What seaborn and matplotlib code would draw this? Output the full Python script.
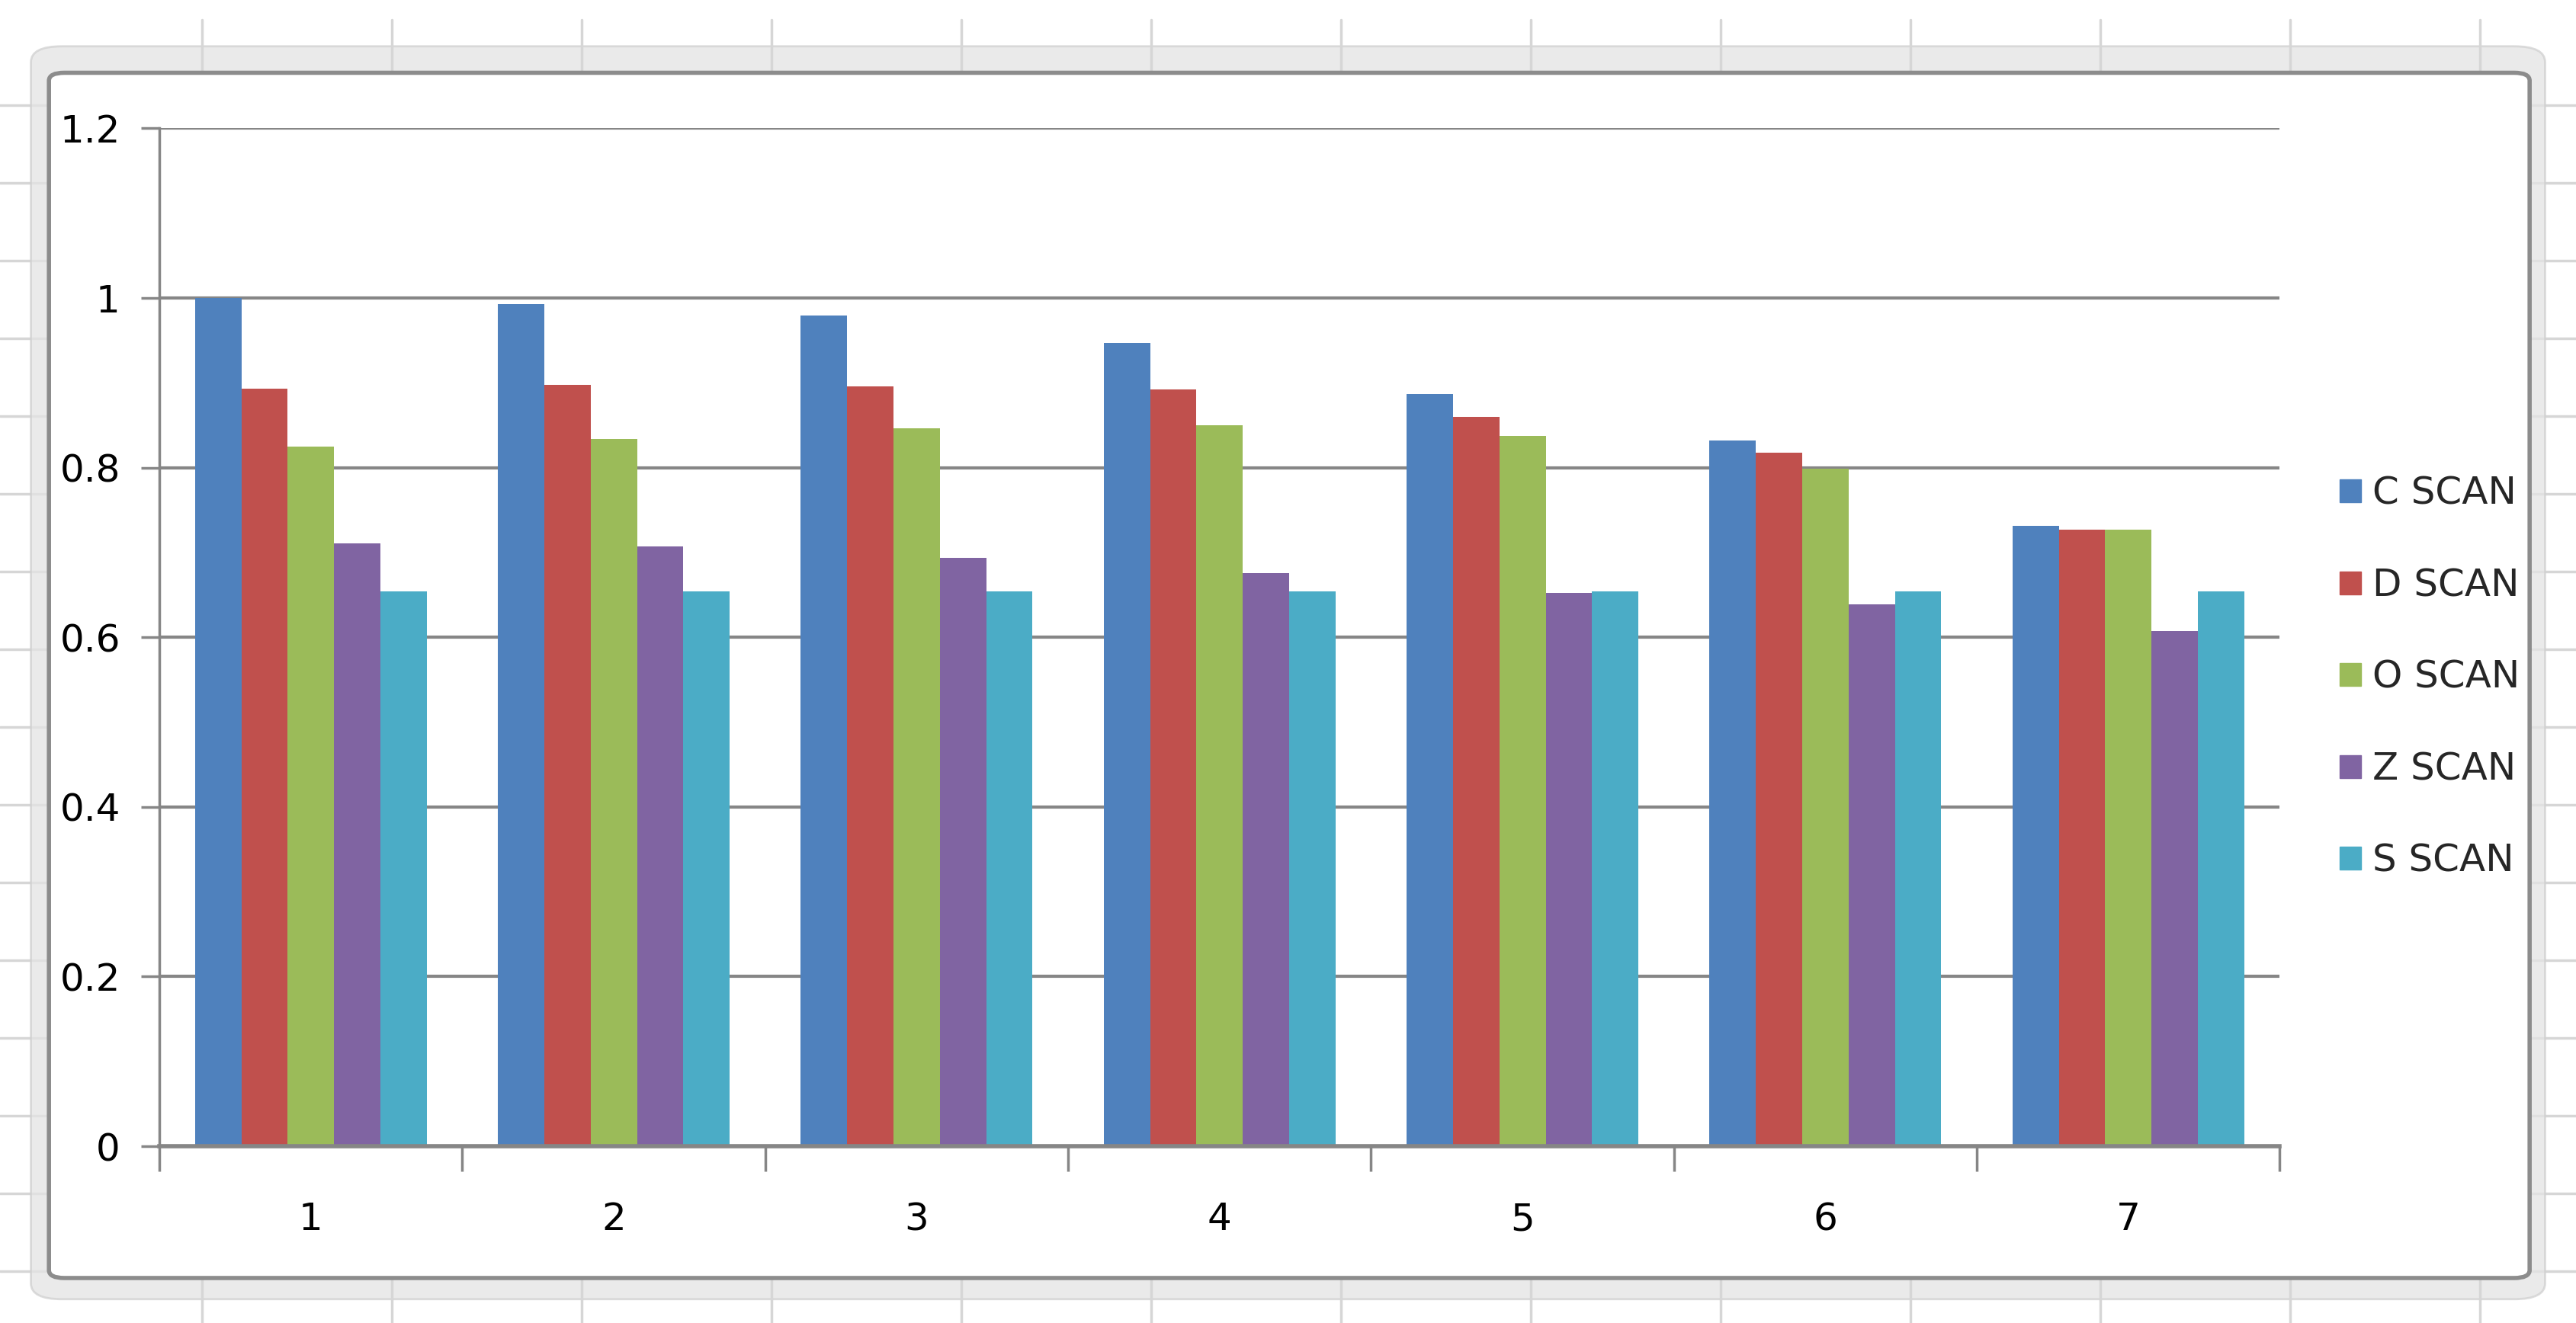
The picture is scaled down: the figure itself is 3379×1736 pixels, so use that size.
import numpy as np
import pandas as pd
import seaborn as sns
import matplotlib.pyplot as plt
from matplotlib import font_manager
from matplotlib.patches import FancyBboxPatch
from matplotlib.lines import Line2D

# values
groups = ['1', '2', '3', '4', '5', '6', '7']
c_scan = [1.0, 0.993, 0.979, 0.947, 0.887, 0.832, 0.731]
d_scan = [0.893, 0.898, 0.896, 0.892, 0.860, 0.818, 0.727]
o_scan = [0.825, 0.834, 0.846, 0.850, 0.837, 0.799, 0.727]
z_scan = [0.711, 0.707, 0.694, 0.676, 0.652, 0.639, 0.607]
s_scan = [0.654, 0.654, 0.654, 0.654, 0.654, 0.654, 0.654]
series = ['C SCAN', 'D SCAN', 'O SCAN', 'Z SCAN', 'S SCAN']
colors = ['#4F81BD', '#C0504D', '#9BBB59', '#8064A2', '#4BACC6']
y_ticks = [0, 0.2, 0.4, 0.6, 0.8, 1.0, 1.2]
y_labels = ['0', '0.2', '0.4', '0.6', '0.8', '1', '1.2']

df = pd.DataFrame({
    'Group': groups * 5,
    'Scan': np.repeat(series, len(groups)),
    'Value': c_scan + d_scan + o_scan + z_scan + s_scan,
})

sns.set_theme(style='white')
# narrow font to get closer to Calibri, if one is there
installed = {f.name for f in font_manager.fontManager.ttflist}
narrow = [f for f in ['Liberation Sans Narrow', 'DejaVu Sans Condensed'] if f in installed]
plt.rcParams['font.family'] = narrow + ['DejaVu Sans']
fs = 36

fig = plt.figure(figsize=(33.79, 17.36), dpi=100)

# spreadsheet background: faint cell grid and the chart frame
grid_c = '#D6D6D6'
for x in np.arange(265, 3379, 249):
    fig.add_artist(Line2D([x / 3379, x / 3379], [0, 0.985], color=grid_c, lw=2.5, zorder=2))
for y in np.arange(138, 1736, 102):
    fig.add_artist(Line2D([0, 1], [1 - y / 1736, 1 - y / 1736], color=grid_c, lw=2.5, zorder=0))
fig.add_artist(FancyBboxPatch((0.012, 0.018), 0.976, 0.947,
                              boxstyle='round,pad=0,rounding_size=0.012',
                              transform=fig.transFigure, facecolor='#E4E4E4',
                              edgecolor='#D0D0D0', lw=2, alpha=0.75, zorder=1))
fig.add_artist(FancyBboxPatch((0.019, 0.034), 0.963, 0.911,
                              boxstyle='round,pad=0,rounding_size=0.006',
                              transform=fig.transFigure, facecolor='white',
                              edgecolor='#8C8C8C', lw=4, zorder=3))

ax = fig.add_axes([0.0619, 0.1336, 0.8231, 0.7694], zorder=4)
ax.patch.set_alpha(0)

sns.barplot(data=df, x='Group', y='Value', hue='Scan', palette=colors,
            width=0.765, linewidth=0, saturation=1, ax=ax, legend=False)

ax.set_ylim(0, 1.2)
ax.set_xlim(-0.5, 6.5)
ax.set_yticks(y_ticks)
ax.set_yticklabels(y_labels)
ax.yaxis.grid(True, color='#868686', linewidth=3)
ax.set_axisbelow(True)
ax.set_xlabel('')
ax.set_ylabel('')

for side in ['top', 'right']:
    ax.spines[side].set_visible(False)
ax.spines['left'].set_color('#868686')
ax.spines['left'].set_linewidth(2.5)
ax.spines['bottom'].set_color('#868686')
ax.spines['bottom'].set_linewidth(4)

ax.tick_params(axis='y', length=17, width=2.5, color='#868686', direction='out',
               pad=20, labelsize=fs, labelcolor='black', left=True)
ax.set_xticks(np.arange(-0.5, 7, 1), minor=True)
ax.tick_params(axis='x', which='major', length=0, pad=52, labelsize=fs, labelcolor='black')
ax.tick_params(axis='x', which='minor', length=24, width=2.5, color='#868686',
               direction='out', bottom=True)

handles = [plt.Rectangle((0, 0), 1, 1, color=c) for c in colors]
fig.legend(handles, series, loc='center left', bbox_to_anchor=(0.895, 0.488),
           frameon=False, fontsize=fs, handlelength=0.55, handleheight=0.55,
           handletextpad=0.3, labelspacing=1.45)

fig.savefig('out.png', dpi=100)
